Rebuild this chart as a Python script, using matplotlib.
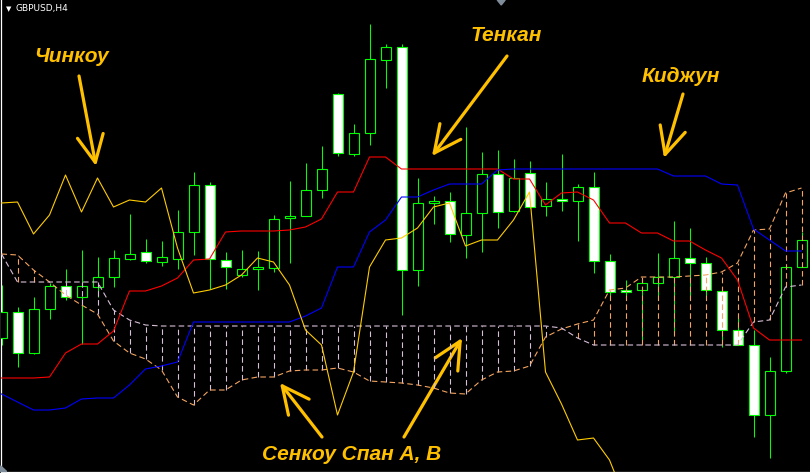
import numpy as np
import matplotlib.pyplot as plt
from matplotlib.patches import Polygon

# GBPUSD H4 bars
bar_open = [1.5662, 1.5688, 1.5647, 1.5691, 1.5714, 1.5703, 1.5713, 1.5723, 1.5741, 1.5748,
            1.5738, 1.5741, 1.5768, 1.5815, 1.5740, 1.5725, 1.5731, 1.5732, 1.5782, 1.5784,
            1.5810, 1.5906, 1.5846, 1.5867, 1.5940, 1.5953, 1.5730, 1.5797, 1.5799, 1.5765,
            1.5787, 1.5826, 1.5789, 1.5827, 1.5794, 1.5801, 1.5799, 1.5813, 1.5739, 1.5710,
            1.5710, 1.5717, 1.5723, 1.5742, 1.5737, 1.5709, 1.5670, 1.5655, 1.5585, 1.5629, 1.5733]
bar_high = [1.5715, 1.5693, 1.5703, 1.5717, 1.5731, 1.5750, 1.5743, 1.5750, 1.5786, 1.5761,
            1.5759, 1.5790, 1.5828, 1.5818, 1.5748, 1.5750, 1.5749, 1.5785, 1.5819, 1.5837,
            1.5854, 1.5907, 1.5876, 1.5976, 1.5956, 1.5956, 1.5822, 1.5804, 1.5808, 1.5873,
            1.5848, 1.5850, 1.5841, 1.5839, 1.5818, 1.5846, 1.5816, 1.5828, 1.5746, 1.5720,
            1.5721, 1.5747, 1.5779, 1.5772, 1.5743, 1.5712, 1.5684, 1.5670, 1.5643, 1.5735, 1.5768]
bar_low = [1.5655, 1.5633, 1.5646, 1.5681, 1.5700, 1.5656, 1.5703, 1.5713, 1.5740, 1.5737,
           1.5734, 1.5731, 1.5745, 1.5711, 1.5711, 1.5723, 1.5710, 1.5728, 1.5737, 1.5784,
           1.5802, 1.5844, 1.5844, 1.5855, 1.5912, 1.5685, 1.5714, 1.5776, 1.5758, 1.5742,
           1.5748, 1.5772, 1.5788, 1.5792, 1.5784, 1.5789, 1.5759, 1.5727, 1.5700, 1.5700,
           1.5660, 1.5700, 1.5665, 1.5700, 1.5700, 1.5653, 1.5655, 1.5563, 1.5542, 1.5627, 1.5733]
bar_close = [1.5688, 1.5647, 1.5691, 1.5714, 1.5703, 1.5714, 1.5723, 1.5742, 1.5746, 1.5739,
             1.5743, 1.5768, 1.5815, 1.5741, 1.5733, 1.5731, 1.5733, 1.5781, 1.5784, 1.5810,
             1.5831, 1.5847, 1.5867, 1.5941, 1.5953, 1.5730, 1.5797, 1.5799, 1.5766, 1.5787,
             1.5826, 1.5788, 1.5822, 1.5793, 1.5801, 1.5799, 1.5813, 1.5739, 1.5708, 1.5708,
             1.5717, 1.5723, 1.5742, 1.5737, 1.5710, 1.5670, 1.5655, 1.5585, 1.5629, 1.5733, 1.5760]

# Ichimoku lines
tenkan = [1.5622, 1.5622, 1.5622, 1.5623, 1.5647, 1.5656, 1.5656, 1.5669, 1.5709, 1.5709,
          1.5714, 1.5722, 1.5740, 1.5741, 1.5768, 1.5769, 1.5769, 1.5769, 1.5770, 1.5773,
          1.5781, 1.5808, 1.5808, 1.5843, 1.5843, 1.5831, 1.5831, 1.5831, 1.5831, 1.5831,
          1.5831, 1.5831, 1.5821, 1.5821, 1.5795, 1.5807, 1.5808, 1.5800, 1.5777, 1.5777,
          1.5767, 1.5767, 1.5759, 1.5759, 1.5750, 1.5742, 1.5720, 1.5672, 1.5660, 1.5660, 1.5660]
kijun = [1.5606, 1.5598, 1.5590, 1.5590, 1.5592, 1.5601, 1.5602, 1.5602, 1.5615, 1.5631,
         1.5634, 1.5638, 1.5678, 1.5678, 1.5678, 1.5678, 1.5678, 1.5678, 1.5678, 1.5684,
         1.5692, 1.5733, 1.5733, 1.5768, 1.5780, 1.5803, 1.5803, 1.5810, 1.5816, 1.5816,
         1.5816, 1.5830, 1.5831, 1.5831, 1.5831, 1.5831, 1.5831, 1.5831, 1.5831, 1.5831,
         1.5831, 1.5831, 1.5824, 1.5824, 1.5824, 1.5816, 1.5815, 1.5771, 1.5760, 1.5749, 1.5749]
chinkou = [1.5797, 1.5798, 1.5766, 1.5785, 1.5825, 1.5788, 1.5822, 1.5793, 1.5800, 1.5798,
           1.5812, 1.5752, 1.5707, 1.5710, 1.5715, 1.5725, 1.5742, 1.5738, 1.5715, 1.5670,
           1.5655, 1.5585, 1.5628, 1.5733, 1.5760, 1.5762, 1.5772, 1.5793, 1.5797, 1.5754,
           1.5760, 1.5760, 1.5780, 1.5808, 1.5628, 1.5596, 1.5560, 1.5562, 1.5540, 1.5500]
senkou_a = [1.5746, 1.5745, 1.5730, 1.5718, 1.5705, 1.5695, 1.5686, 1.5659, 1.5647, 1.5641,
            1.5630, 1.5603, 1.5595, 1.5610, 1.5610, 1.5620, 1.5623, 1.5623, 1.5629, 1.5630,
            1.5630, 1.5632, 1.5628, 1.5619, 1.5618, 1.5617, 1.5615, 1.5612, 1.5607, 1.5606,
            1.5620, 1.5628, 1.5629, 1.5634, 1.5663, 1.5671, 1.5676, 1.5680, 1.5710, 1.5712,
            1.5723, 1.5723, 1.5723, 1.5724, 1.5725, 1.5728, 1.5737, 1.5770, 1.5771, 1.5807, 1.5812]
senkou_b = [1.5746, 1.5718, 1.5718, 1.5718, 1.5718, 1.5718, 1.5718, 1.5690, 1.5680, 1.5675,
            1.5674, 1.5674, 1.5674, 1.5674, 1.5674, 1.5674, 1.5674, 1.5674, 1.5674, 1.5674,
            1.5674, 1.5674, 1.5674, 1.5674, 1.5674, 1.5674, 1.5674, 1.5674, 1.5674, 1.5674,
            1.5674, 1.5674, 1.5674, 1.5674, 1.5674, 1.5672, 1.5662, 1.5655, 1.5655, 1.5655,
            1.5655, 1.5655, 1.5655, 1.5655, 1.5655, 1.5655, 1.5655, 1.5678, 1.5680, 1.5713, 1.5715]

# annotations (text, baseline position in image pixels)
labels = ["Чинкоу", "Тенкан", "Киджун", "Сенкоу Спан А, В"]
label_pos = [(71, 62), (506, 41), (681, 82), (352, 460)]
arrows = [((79, 76), (96, 166)), ((507, 56), (432, 156)), ((683, 94), (664, 158)),
          ((322, 437), (280, 383)), ((404, 437), (462, 338))]

W, H = 810, 473
gold = '#FFC000'
lime = '#00FF00'
sandy = '#F4A460'
thistle = '#D8BFD8'
dash = (0, (5, 3))


def fpos(x, y):
    return (x / W, 1 - y / H)


bars = np.arange(len(bar_open))
o = np.array(bar_open)
c = np.array(bar_close)
a = np.array(senkou_a)
b = np.array(senkou_b)

fig = plt.figure(figsize=(8.1, 4.73), dpi=100, facecolor='black')
ax = fig.add_axes([0.6 / W, 1.5 / H, 1 - 0.6 / W, 471.5 / H])
ax.set_facecolor('black')
ax.set_xlim(-0.9 / 16, (W - 1.5) / 16)
ax.set_ylim(1.6 - 0.04715, 1.6)

# candles
ax.vlines(bars, bar_low, bar_high, color=lime, lw=0.75, zorder=2)
ax.bar(bars, c - o, bottom=o, width=0.625, color=np.where(c >= o, 'black', 'white'),
       edgecolor=lime, linewidth=0.8, zorder=3)

# cloud
up = a > b
dn = a < b
ax.vlines(bars[up], b[up], a[up], colors=sandy, linestyles=dash, lw=0.8, zorder=4)
ax.vlines(bars[dn], a[dn], b[dn], colors=thistle, linestyles=dash, lw=0.8, zorder=4)
ax.plot(bars, a, color=sandy, ls=dash, lw=0.8, zorder=4)
ax.plot(bars, b, color=thistle, ls=dash, lw=0.8, zorder=4)

# lines
ax.plot(bars, tenkan, color='#FF0000', lw=0.8, zorder=5)
ax.plot(bars, kijun, color='#0000FF', lw=0.8, zorder=5)
ax.plot(bars[:len(chinkou)], chinkou, color='#FFCC00', lw=0.8, zorder=5)

# frame
for s in ['top', 'right']:
    ax.spines[s].set_visible(False)
for s in ['left', 'bottom']:
    ax.spines[s].set_color('white')
    ax.spines[s].set_linewidth(0.9)
ax.set_xticks(bars[::4])
ax.set_yticks([])
ax.tick_params(axis='x', colors='white', length=3, width=0.8, labelbottom=False)

# chart shift markers
ax.add_patch(Polygon([(0, 0), (0, 0.012), (0.0075, 0)], closed=True, transform=ax.transAxes,
                     color='#7F8C9A', clip_on=False, zorder=6))
ax.add_patch(Polygon([(497 / W, 1), (505 / W, 1), (501 / W, 1 - 5 / 471.5)], closed=True,
                     transform=ax.transAxes, color='#7F8C9A', clip_on=False, zorder=6))

# title
fig.text(*fpos(6, 9), '▼', color='white', fontsize=5, ha='left', va='center')
fig.text(*fpos(16, 8.5), 'GBPUSD,H4', color='white', fontsize=6.5, ha='left', va='center')

# annotations
for txt, (x, y) in zip(labels, label_pos):
    fig.text(*fpos(x, y), txt, color=gold, fontsize=15, fontweight='bold', style='italic',
             family='Liberation Sans', ha='center', va='baseline')
for (x0, y0), (x1, y1) in arrows:
    ax.annotate('', xy=fpos(x1, y1), xytext=fpos(x0, y0), xycoords='figure fraction',
                textcoords='figure fraction',
                arrowprops=dict(arrowstyle='->,head_length=0.97,head_width=0.47', color=gold,
                                lw=2.3, mutation_scale=20, shrinkA=0, shrinkB=0))

fig.savefig('out.png', dpi=100, facecolor='black')
